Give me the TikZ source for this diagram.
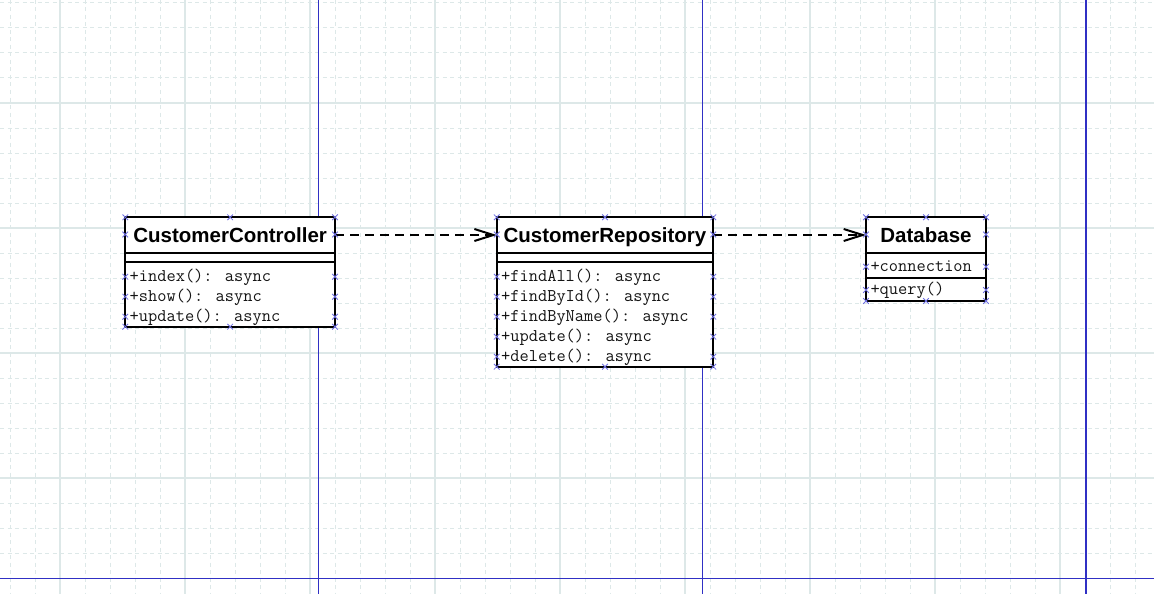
\documentclass[tikz,border=0pt]{standalone}
\usepackage{fontspec}
\setmainfont{Liberation Sans}
\usetikzlibrary{arrows.meta}
\definecolor{gridc}{RGB}{221,232,232}
\definecolor{pagec}{RGB}{48,48,196}
\definecolor{handlec}{RGB}{110,110,225}
\definecolor{optext}{RGB}{20,20,20}
\begin{document}
\begin{tikzpicture}[x=1pt,y=-1pt,
  minorgrid/.style={gridc, line width=1pt, dash pattern=on 4pt off 3.5pt},
  majorgrid/.style={gridc, line width=1.2pt},
  pagebreak/.style={pagec, line width=1.4pt},
  clsbox/.style={draw=black, fill=white, line width=2pt, inner sep=0pt, outer sep=0pt},
  titlebox/.style={clsbox, font=\bfseries\fontsize{20.5pt}{24pt}\selectfont, text height=14.7pt, text depth=0pt},
  member/.style={anchor=base west, inner sep=0pt, font=\ttfamily\fontsize{17.9pt}{20pt}\selectfont, text=optext},
  dep/.style={line width=2pt, dash pattern=on 9pt off 6pt, -{Straight Barb[length=19pt,width=12pt]}},
  hdl/.pic={\draw[handlec, line width=0.8pt] (-2.8,-2.8) -- (2.8,2.8) (-2.8,2.8) -- (2.8,-2.8);}
]
\useasboundingbox (0,0) rectangle (1154,594);
\fill[white] (0,0) rectangle (1154,594);
% grid
\foreach \x in {10,35,...,1135} \draw[minorgrid] (\x,0) -- (\x,594);
\foreach \y in {3,28,...,578} \draw[minorgrid] (0,\y) -- (1154,\y);
\foreach \x in {60,185,...,1060} \draw[majorgrid] (\x,0) -- (\x,594);
\foreach \y in {103,228,353,478} \draw[majorgrid] (0,\y) -- (1154,\y);
% page breaks
\foreach \x in {318.3,702.3,1086} \draw[pagebreak] (\x,0) -- (\x,594);
\draw[pagebreak] (0,578.5) -- (1154,578.5);

% CustomerController
\node[clsbox, minimum width=209.7pt, minimum height=109.4pt] (cc) at (230.15,272) {};
\node[titlebox, minimum width=209.7pt, minimum height=35.4pt] (ccT) at (230.15,235) {CustomerController};
\node[clsbox, minimum width=209.7pt, minimum height=9.6pt] (ccA) at (230.15,257.5) {};
\node[member] (cc1) at (129.5,281.3) {+index(): async};
\node[member] (cc2) at (129.5,301.3) {+show(): async};
\node[member] (cc3) at (129.5,321.3) {+update(): async};

% CustomerRepository
\node[clsbox, minimum width=216.6pt, minimum height=149.4pt] (cr) at (605,292) {};
\node[titlebox, minimum width=216.6pt, minimum height=35.4pt] (crT) at (605,235) {CustomerRepository};
\node[clsbox, minimum width=216.6pt, minimum height=9.6pt] (crA) at (605,257.5) {};
\node[member] (cr1) at (501,281.3) {+findAll(): async};
\node[member] (cr2) at (501,301.3) {+findById(): async};
\node[member] (cr3) at (501,321.3) {+findByName(): async};
\node[member] (cr4) at (501,341.3) {+update(): async};
\node[member] (cr5) at (501,361.3) {+delete(): async};

% Database
\node[clsbox, minimum width=120pt, minimum height=83.7pt] (db) at (926,259.15) {};
\node[titlebox, minimum width=120pt, minimum height=35.4pt] (dbT) at (926,235) {Database};
\node[clsbox, minimum width=120pt, minimum height=25pt] (dbA) at (926,265.2) {};
\node[member] (db1) at (870.3,271.3) {+connection};
\node[member] (db2) at (870.3,294) {+query()};

% dependencies
\draw[dep] (ccT.east) -- (crT.west);
\draw[dep] (crT.east) -- (dbT.west);

% selection handles
\foreach \x/\y in {125.3/217.3,230.15/217.3,335/217.3,125.3/326.7,230.15/326.7,335/326.7}
  \pic at (\x,\y) {hdl};
\foreach \y in {234.5,276.7,296.7,316.7} {\pic at (125.3,\y) {hdl}; \pic at (335,\y) {hdl};}
\foreach \x/\y in {496.7/217.3,605/217.3,713.3/217.3,496.7/366.7,605/366.7,713.3/366.7}
  \pic at (\x,\y) {hdl};
\foreach \y in {234.5,276.7,296.7,316.7,336.7,356.7} {\pic at (496.7,\y) {hdl}; \pic at (713.3,\y) {hdl};}
\foreach \x/\y in {866/217.3,926/217.3,986/217.3,866/301,926/301,986/301}
  \pic at (\x,\y) {hdl};
\foreach \y in {234.5,266.7,290} {\pic at (866,\y) {hdl}; \pic at (986,\y) {hdl};}
\end{tikzpicture}
\end{document}
